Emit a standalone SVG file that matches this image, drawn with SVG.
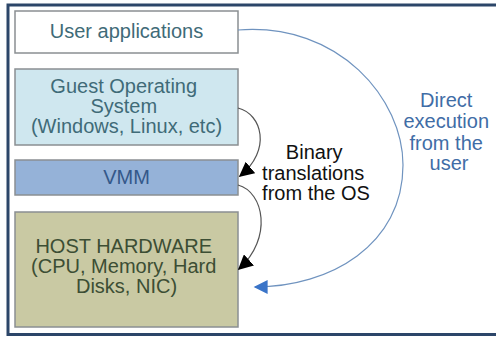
<svg xmlns="http://www.w3.org/2000/svg" width="496" height="337" viewBox="0 0 496 337">
  <style>
    .box { stroke: #8a8f92; stroke-width: 1.5; }
    .lbl { font-family: "Liberation Sans", Arial, sans-serif; font-size: 20px; text-anchor: middle; }
    .link { fill: none; stroke-width: 1.2; }
  </style>
  <defs>
    <marker id="headBlack" viewBox="0 0 10 10" refX="9" refY="5" markerWidth="15" markerHeight="15" markerUnits="userSpaceOnUse" orient="auto">
      <path d="M0,0 L10,5 L0,10 Z" fill="#000"/>
    </marker>
    <marker id="headBlue" viewBox="0 0 10 10" refX="9" refY="5" markerWidth="15" markerHeight="14" markerUnits="userSpaceOnUse" orient="auto">
      <path d="M0,0 L10,5 L0,10 Z" fill="#3a74c8"/>
    </marker>
  </defs>

  <rect width="496" height="337" fill="#ffffff"/>
  <!-- outer frame -->
  <path d="M500,5 H8 V334.5 H500" fill="none" stroke="#2c4669" stroke-width="3"/>

  <g id="user-apps">
    <rect class="box" x="15" y="11" width="223" height="42" fill="#ffffff"/>
    <text class="lbl" x="126.5" y="37.5" fill="#3f6b78">User applications</text>
  </g>

  <g id="guest-os">
    <rect class="box" x="15" y="69" width="223" height="76" fill="#cfe7ef"/>
    <text class="lbl" fill="#3f6b78">
      <tspan x="126.5" y="93">Guest Operating</tspan>
      <tspan x="126.5" y="113">System</tspan>
      <tspan x="126.5" y="133">(Windows, Linux, etc)</tspan>
    </text>
  </g>

  <g id="vmm">
    <rect class="box" x="15" y="160" width="223" height="35" fill="#95b2d8"/>
    <text class="lbl" x="126.5" y="183.5" fill="#34588a">VMM</text>
  </g>

  <g id="host-hardware">
    <rect class="box" x="15" y="212" width="223" height="115" fill="#c9c9a3"/>
    <text class="lbl" fill="#3c4e34">
      <tspan x="126.5" y="253">HOST HARDWARE</tspan>
      <tspan x="126.5" y="273">(CPU, Memory, Hard</tspan>
      <tspan x="126.5" y="293">Disks, NIC)</tspan>
    </text>
  </g>

  <g id="connectors">
    <path class="link" stroke="#555555" d="M238,108 C262,114 272,150 240,176" marker-end="url(#headBlack)"/>
    <path class="link" stroke="#555555" d="M238,185 C264,192 273,238 239,269" marker-end="url(#headBlack)"/>
    <path class="link" stroke="#6f93bf" d="M238,30 C340,22 403,100 403,165 C403,245 330,287 255,287" marker-end="url(#headBlue)"/>
  </g>

  <g id="labels">
    <text class="lbl" fill="#111111">
      <tspan x="317" y="159">Binary</tspan>
      <tspan x="316" y="180">translations</tspan>
      <tspan x="316" y="200">from the OS</tspan>
    </text>
    <text class="lbl" fill="#3f6da6">
      <tspan x="449" y="107">Direct</tspan>
      <tspan x="449" y="128">execution</tspan>
      <tspan x="449" y="150">from the</tspan>
      <tspan x="449" y="170">user</tspan>
    </text>
  </g>
</svg>
